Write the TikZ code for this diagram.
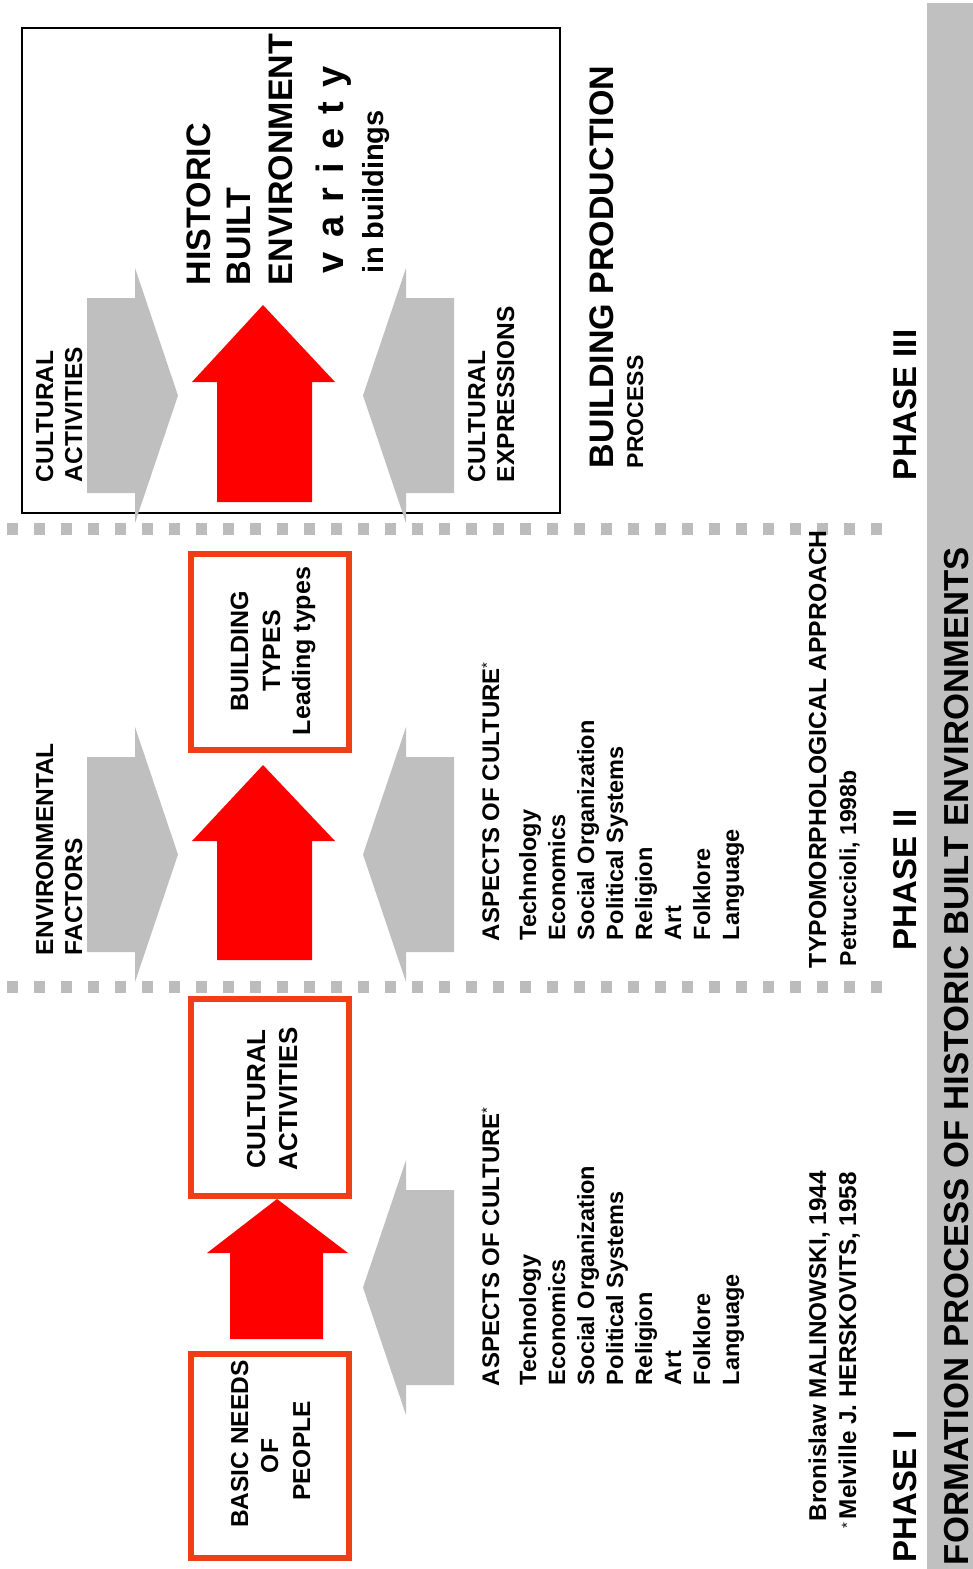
\documentclass[tikz,border=0pt]{standalone}
\usepackage{fontspec}
\setmainfont{Liberation Sans}
\definecolor{boxorange}{RGB}{240,62,22}
\definecolor{arrred}{RGB}{255,0,0}
\definecolor{arrgray}{RGB}{191,191,191}
\definecolor{bargray}{RGB}{192,192,192}
\definecolor{dotgray}{RGB}{188,188,188}
\newcommand\fsz[1]{\fontsize{#1}{#1}\selectfont\bfseries}
\newcommand\aster[1]{{\fontsize{15}{15}\selectfont\mdseries\raisebox{#1}{*}}}
\tikzset{
  rtxt/.style={rotate=90, inner sep=0pt, outer sep=0pt},
  lab/.style={rtxt, anchor=base west},
  ctr/.style={rtxt, anchor=base},
  phasebox/.style={draw=boxorange, line width=6pt, minimum width=158pt, inner sep=0pt},
  redblock/.style={fill=arrred},
  grayblock/.style={fill=arrgray},
  dotsep/.style={draw=dotgray, line width=12pt, dash pattern=on 11pt off 16pt},
  pics/grayin/.style={code={
    \fill[grayblock] (0,-97.5) -- (48,-97.5) -- (48,-127.5) -- (91,0)
      -- (48,127.5) -- (48,97.5) -- (0,97.5) -- cycle;}},
}
\begin{document}
\begin{tikzpicture}[x=1pt,y=-1pt]
\useasboundingbox (0,0) rectangle (973,1569);

% title bar
\fill[bargray] (927,3) rectangle (973,1569);
\node[lab, font=\fsz{34.7}] (title) at (968,1565) {FORMATION PROCESS OF HISTORIC BUILT ENVIRONMENTS};

% phase separators
\coordinate (d1a) at (7,529);  \coordinate (d1b) at (886,529);
\coordinate (d2a) at (7,987);  \coordinate (d2b) at (886,987);
\draw[dotsep] (d1a) -- (d1b);
\draw[dotsep] (d2a) -- (d2b);

% ---------------- phase III ----------------
\node[draw, line width=1.2pt, minimum width=538pt, minimum height=485pt, inner sep=0pt] (frame3) at (291,270.5) {};
\pic at (87,395.5) {grayin};
\pic[xscale=-1] at (454,395.5) {grayin};
\fill[redblock] (217,502) -- (217,382) -- (192,382) -- (263,305) -- (335,382) -- (312,382) -- (312,502) -- cycle;

\node[lab, font=\fsz{24.5}] (ca3a) at (53,482) {CULTURAL};
\node[lab, font=\fsz{24.5}] (ca3b) at (82,482) {ACTIVITIES};
\node[lab, font=\fsz{24.5}] (ce3a) at (485,482) {CULTURAL};
\node[lab, font=\fsz{24.5}] (ce3b) at (514,482) {EXPRESSIONS};
\node[lab, font=\fsz{34}] (hbe1) at (210,285) {HISTORIC};
\node[lab, font=\fsz{34}] (hbe2) at (250,285) {BUILT};
\node[lab, font=\fsz{34}] (hbe3) at (292,285) {ENVIRONMENT};
\node[lab, font=\fsz{38}] (var) at (343,273) {v\hspace{14pt}a\hspace{14pt}r\hspace{14pt}i\hspace{14pt}e\hspace{14pt}t\hspace{14pt}y};
\node[lab, font=\fsz{29}] (inb) at (383,273) {in buildings};
\node[lab, font=\fsz{34}] (bp) at (613,468) {BUILDING PRODUCTION};
\node[lab, font=\fsz{23}] (proc) at (643,468) {PROCESS};
\node[lab, font=\fsz{33}] (ph3) at (916,480) {PHASE III};

% ---------------- phase II ----------------
\node[phasebox, minimum height=196pt] (btypes) at (270,652) {};
\pic at (87,854.5) {grayin};
\pic[xscale=-1] at (454,854.5) {grayin};
\fill[redblock] (217,960) -- (217,841) -- (192,841) -- (263,765) -- (335,841) -- (312,841) -- (312,960) -- cycle;

\node[lab, font=\fsz{24.5}] (ef1) at (53,955) {ENVIRONMENTAL};
\node[lab, font=\fsz{24.5}] (ef2) at (82,955) {FACTORS};
\node[ctr, font=\fsz{25}] (bt1) at (248,651) {BUILDING};
\node[ctr, font=\fsz{25}] (bt2) at (280,651) {TYPES};
\node[ctr, font=\fsz{25}] (bt3) at (310,651) {Leading types};
\node[lab, font=\fsz{24}] (as2) at (499,941) {ASPECTS OF CULTURE\aster{7pt}};
\foreach \t [count=\i] in {Technology, Economics, Social Organization, Political Systems, Religion, Art, Folklore, Language}
  \node[lab, font=\fsz{23.5}] (ltwo\i) at ({507+29*\i},940) {\t};
\node[lab, font=\fsz{24.7}] (typo) at (826,968) {TYPOMORPHOLOGICAL APPROACH};
\node[lab, font=\fsz{23}] (petr) at (856,966) {Petruccioli, 1998b};
\node[lab, font=\fsz{33}] (ph2) at (916,950) {PHASE II};

% ---------------- phase I ----------------
\node[phasebox, minimum height=197pt] (cultact) at (270,1097.5) {};
\node[phasebox, minimum height=204pt] (needs) at (270,1456) {};
\pic[xscale=-1] at (454,1287.5) {grayin};
\fill[redblock] (230,1339) -- (230,1253) -- (207,1253) -- (277,1199) -- (348,1253) -- (323,1253) -- (323,1339) -- cycle;

\node[ctr, font=\fsz{26}] (ca1a) at (265,1099) {CULTURAL};
\node[ctr, font=\fsz{26}] (ca1b) at (297,1099) {ACTIVITIES};
\node[ctr, font=\fsz{24.5}] (bn1) at (248,1444) {BASIC NEEDS};
\node[ctr, font=\fsz{24.5}] (bn2) at (278,1456) {OF};
\node[ctr, font=\fsz{24.5}] (bn3) at (310,1451) {PEOPLE};
\node[lab, font=\fsz{24}] (as1) at (499,1386) {ASPECTS OF CULTURE\aster{7pt}};
\foreach \t [count=\i] in {Technology, Economics, Social Organization, Political Systems, Religion, Art, Folklore, Language}
  \node[lab, font=\fsz{23.5}] (lone\i) at ({507+29*\i},1385) {\t};
\node[lab, font=\fsz{24.3}] (mal) at (826,1521) {Bronislaw MALINOWSKI, 1944};
\node[lab, font=\fsz{24.3}] (hers) at (856,1528) {\aster{4pt}\hspace{3pt}Melville J. HERSKOVITS, 1958};
\node[lab, font=\fsz{33}] (ph1) at (916,1562) {PHASE I};
\end{tikzpicture}
\end{document}
